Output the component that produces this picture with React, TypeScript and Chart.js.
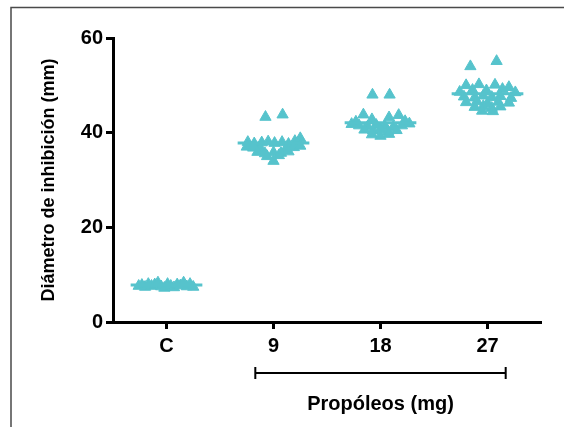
import React, { useEffect, useRef } from "react";
import { Chart, registerables } from "chart.js";

Chart.register(...registerables);

const CATEGORIES = ["C", "9", "18", "27"];
const Y_TICKS = [0, 20, 40, 60];
const Y_TITLE = "Diámetro de inhibición (mm)";
const GROUP_TITLE = "Propóleos (mg)";

// horizontal jitter (in category units) and values for each group
const C_DX = [-0.26, -0.23, -0.2, -0.17, -0.14, -0.11, -0.08, -0.05, -0.02, 0.01, 0.04, 0.07, 0.1, 0.13, 0.16, 0.19, 0.22, 0.25];
const C_Y = [7.6, 7.8, 7.4, 8.0, 7.6, 7.9, 8.3, 7.5, 7.2, 8.0, 7.6, 7.3, 7.9, 7.7, 8.3, 7.5, 8.0, 7.4];

const G9_DX = [-0.075, 0.085, -0.24, -0.18, -0.11, -0.05, 0.01, 0.08, 0.14, 0.2, 0.25, -0.25, -0.19, -0.12, 0.12, 0.19, 0.25, -0.15, -0.08, 0.0, 0.07, 0.14, -0.06, 0.05, 0.0];
const G9_Y = [43.3, 43.8, 38.0, 37.7, 37.9, 38.1, 37.8, 38.0, 37.6, 38.2, 38.8, 37.0, 36.8, 36.6, 36.7, 36.9, 37.2, 35.9, 35.6, 35.8, 35.7, 36.0, 35.0, 35.2, 34.0];

const G18_DX = [-0.075, 0.085, -0.16, 0.17, 0.08, -0.08, -0.23, 0.23, -0.27, 0.27, -0.2, -0.12, -0.04, 0.04, 0.12, 0.2, -0.15, -0.07, 0.0, 0.07, 0.15, -0.08, 0.0, 0.08];
const G18_Y = [48.0, 48.0, 43.8, 43.7, 43.2, 42.8, 42.3, 42.4, 41.8, 41.9, 41.5, 41.3, 41.6, 41.4, 41.2, 41.5, 40.6, 40.4, 40.7, 40.3, 40.5, 39.6, 39.3, 39.7];

const G27_DX = [0.085, -0.16, -0.2, -0.08, 0.07, 0.2, -0.14, 0.14, -0.26, -0.01, 0.26, -0.22, -0.12, -0.04, 0.04, 0.12, 0.22, -0.2, -0.1, 0.0, 0.1, 0.2, -0.12, -0.04, 0.04, 0.12, -0.05, 0.05];
const G27_Y = [55.1, 54.0, 50.0, 50.2, 50.1, 49.6, 49.0, 49.2, 48.6, 48.9, 48.5, 47.6, 47.4, 47.8, 47.5, 47.7, 47.3, 46.4, 46.6, 46.2, 46.5, 46.3, 45.4, 45.6, 45.2, 45.5, 44.6, 44.5];

const GROUP_DX = [C_DX, G9_DX, G18_DX, G27_DX];
const GROUP_Y = [C_Y, G9_Y, G18_Y, G27_Y];
const MEANS = [7.8, 37.8, 42.1, 48.2];
const MEAN_HALF = 0.335;

const TEAL = "#56C3CC";
const FONT = "'Liberation Sans', Arial, Helvetica, sans-serif";

const framePlugin = {
  id: "frame",
  beforeDraw(chart: any) {
    const ctx = chart.ctx;
    ctx.save();
    ctx.strokeStyle = "#4a4a4a";
    ctx.lineWidth = 1.5;
    ctx.beginPath();
    ctx.moveTo(11, chart.height);
    ctx.lineTo(11, 7.5);
    ctx.lineTo(chart.width, 7.5);
    ctx.stroke();
    ctx.restore();
  },
  afterDraw(chart: any) {
    const ctx = chart.ctx;
    const xs = chart.scales.x;
    const bottom = chart.chartArea.bottom;
    const x1 = xs.getPixelForValue(0.83);
    const x2 = xs.getPixelForValue(3.17);
    const y = bottom + 51;
    ctx.save();
    ctx.strokeStyle = "#000";
    ctx.lineWidth = 2;
    ctx.beginPath();
    ctx.moveTo(x1, y);
    ctx.lineTo(x2, y);
    ctx.moveTo(x1, y - 6);
    ctx.lineTo(x1, y + 6);
    ctx.moveTo(x2, y - 6);
    ctx.lineTo(x2, y + 6);
    ctx.stroke();
    ctx.fillStyle = "#000";
    ctx.font = `bold 20px ${FONT}`;
    ctx.textAlign = "center";
    ctx.textBaseline = "middle";
    ctx.fillText(GROUP_TITLE, (x1 + x2) / 2, bottom + 82);
    ctx.restore();
  },
};

export default function App() {
  const ref = useRef<HTMLCanvasElement>(null);

  useEffect(() => {
    if (!ref.current) return;
    const pointData: { x: number; y: number }[] = [];
    GROUP_DX.forEach((dxs, g) => {
      dxs.forEach((dx, i) => pointData.push({ x: g + dx, y: GROUP_Y[g][i] }));
    });
    const meanSets = MEANS.map((m, g) => ({
      type: "line" as const,
      data: [
        { x: g - MEAN_HALF, y: m },
        { x: g + MEAN_HALF, y: m },
      ],
      borderColor: TEAL,
      borderWidth: 3,
      pointRadius: 0,
      fill: false,
      order: 0,
    }));
    const chart = new Chart(ref.current, {
      type: "scatter",
      data: {
        datasets: [
          {
            type: "scatter",
            data: pointData,
            pointStyle: "triangle",
            pointRadius: 6.5,
            pointBackgroundColor: TEAL,
            pointBorderColor: TEAL,
            pointBorderWidth: 1,
            order: 1,
          } as any,
          ...meanSets,
        ],
      },
      options: {
        responsive: false,
        animation: false,
        layout: { padding: { top: 38, right: 23, left: 0, bottom: 0 } },
        plugins: { legend: { display: false }, tooltip: { enabled: false } },
        scales: {
          x: {
            type: "linear",
            min: -0.5,
            max: 3.5,
            afterBuildTicks: (s: any) => {
              s.ticks = CATEGORIES.map((_, i) => ({ value: i }));
            },
            afterFit: (s: any) => {
              s.height = 105;
            },
            ticks: {
              callback: (v: any) => CATEGORIES[v as number] ?? "",
              font: { family: FONT, size: 20, weight: "bold" },
              color: "#000",
              padding: 5,
              maxRotation: 0,
              autoSkip: false,
            },
            grid: {
              display: true,
              drawOnChartArea: false,
              drawTicks: true,
              tickLength: 7,
              tickWidth: 3,
              tickColor: "#000",
            },
            border: { display: true, width: 3, color: "#000" },
          },
          y: {
            min: 0,
            max: 60,
            afterBuildTicks: (s: any) => {
              s.ticks = Y_TICKS.map((v) => ({ value: v }));
            },
            afterFit: (s: any) => {
              s.width = 113;
            },
            ticks: {
              font: { family: FONT, size: 20, weight: "bold" },
              color: "#000",
              padding: 3,
            },
            grid: {
              display: true,
              drawOnChartArea: false,
              drawTicks: true,
              tickLength: 7,
              tickWidth: 3,
              tickColor: "#000",
            },
            border: { display: true, width: 3, color: "#000" },
            title: {
              display: true,
              text: Y_TITLE,
              font: { family: FONT, size: 18, weight: "bold" },
              color: "#000",
              padding: { top: 38, bottom: 0 },
            },
          },
        },
      } as any,
      plugins: [framePlugin],
    });
    return () => chart.destroy();
  }, []);

  return (
    <div style={{ position: "fixed", left: 0, top: 0, width: 564, height: 427, background: "#fff" }}>
      <canvas ref={ref} width={564} height={427} />
    </div>
  );
}
